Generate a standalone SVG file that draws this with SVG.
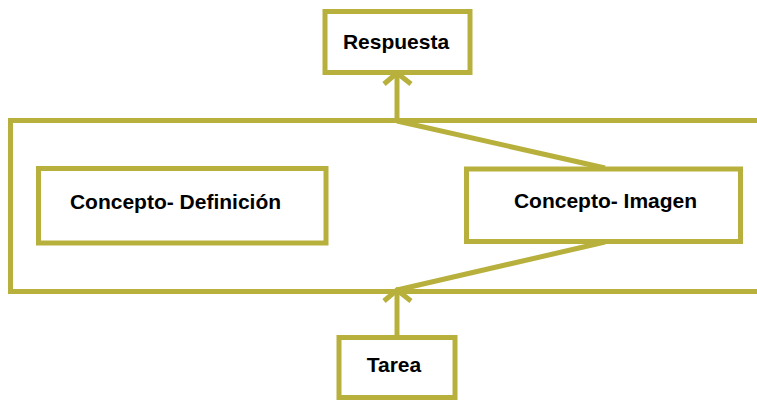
<svg xmlns="http://www.w3.org/2000/svg" width="757" height="400" viewBox="0 0 757 400">
  <style>
    .box { fill: #ffffff; stroke: #B8B03C; stroke-width: 5; }
    .frame { fill: none; stroke: #B8B03C; stroke-width: 5; }
    .conn { fill: none; stroke: #B8B03C; stroke-width: 5; stroke-linecap: butt; }
    .head { fill: none; stroke: #B8B03C; stroke-width: 5; stroke-linejoin: miter; }
    .lbl { font-family: "Liberation Sans", Arial, sans-serif; font-weight: bold; font-size: 21px; fill: #000000; text-anchor: middle; }
  </style>
  <rect width="757" height="400" fill="#ffffff"/>
  <g id="frame">
    <rect class="frame" x="10.5" y="120.5" width="760" height="171"/>
  </g>
  <g id="connectors">
    <line class="conn" x1="397" y1="121" x2="397" y2="74"/>
    <polyline class="head" points="384,84 397,73 411,84"/>
    <line class="conn" x1="397" y1="121" x2="605" y2="168"/>
    <line class="conn" x1="605" y1="242" x2="397" y2="290"/>
    <line class="conn" x1="397" y1="337" x2="397" y2="291"/>
    <polyline class="head" points="384,301 397,290 411,301"/>
  </g>
  <g id="respuesta">
    <rect class="box" x="325" y="11.5" width="145" height="61"/>
    <text class="lbl" x="396" y="49">Respuesta</text>
  </g>
  <g id="concepto-definicion">
    <rect class="box" x="38.5" y="168.5" width="287.5" height="74.5"/>
    <text class="lbl" x="175.5" y="209">Concepto- Definición</text>
  </g>
  <g id="concepto-imagen">
    <rect class="box" x="466.5" y="169" width="274" height="72.5"/>
    <text class="lbl" x="605.5" y="208">Concepto- Imagen</text>
  </g>
  <g id="tarea">
    <rect class="box" x="339" y="337.5" width="116" height="60"/>
    <text class="lbl" x="394" y="372">Tarea</text>
  </g>
</svg>
